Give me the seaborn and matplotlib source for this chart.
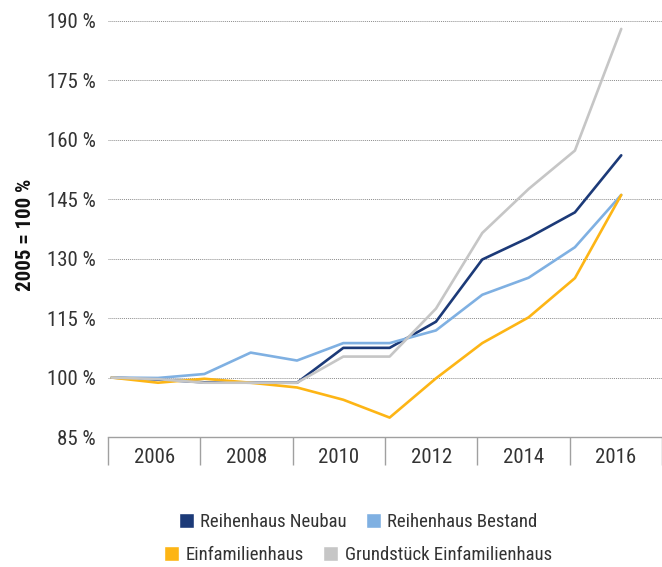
import numpy as np
import pandas as pd
import matplotlib
matplotlib.use("Agg")
import matplotlib.pyplot as plt
import seaborn as sns
from matplotlib.patches import Patch

# index values, 2005 = 100 %
years = list(range(2005, 2017))
reihenhaus_neubau = [100, 99.5, 98.8, 98.7, 98.7, 107.5, 107.5, 114.1, 129.8, 135.3, 141.7, 156.1]
reihenhaus_bestand = [100, 99.9, 100.9, 106.3, 104.3, 108.7, 108.7, 111.9, 120.9, 125.2, 132.9, 146.1]
einfamilienhaus = [100, 98.7, 99.7, 98.7, 97.5, 94.4, 89.9, 99.8, 108.7, 115.2, 125.1, 146.1]
grundstueck = [100, 99.6, 98.7, 98.7, 98.7, 105.3, 105.3, 117.4, 136.5, 147.6, 157.3, 188.0]

series_names = ["Reihenhaus Neubau", "Reihenhaus Bestand", "Einfamilienhaus",
                "Grundstück Einfamilienhaus"]
colors = ["#1c3a78", "#7fb0e2", "#fdb515", "#c6c6c6"]
year_labels = ["2006", "2008", "2010", "2012", "2014", "2016"]
y_ticks = [85, 100, 115, 130, 145, 160, 175, 190]

df = pd.DataFrame({
    "Jahr": years * 4,
    "Index": reihenhaus_neubau + reihenhaus_bestand + einfamilienhaus + grundstueck,
    "Serie": sum([[n] * len(years) for n in series_names], []),
})

sns.set_style("white")
plt.rcParams["font.family"] = ["Roboto Condensed", "Roboto", "DejaVu Sans"]
text_col = "#333333"

fig = plt.figure(figsize=(6.62, 5.67), dpi=100)
ax = fig.add_axes([108 / 662, 1 - 437 / 567, 554 / 662, 416 / 567])

sns.lineplot(data=df, x="Jahr", y="Index", hue="Serie", hue_order=series_names,
             palette=colors, linewidth=1.9, ax=ax, legend=False)

ax.set_xlim(2004.92, 2016.88)
ax.set_ylim(85, 190)
ax.set_yticks(y_ticks)
ax.set_yticklabels([f"{v} %" for v in y_ticks], fontsize=15, color=text_col)
ax.grid(axis="y", color="#8c8c8c", linestyle=(0, (1, 1)), linewidth=0.7)
ax.set_axisbelow(True)

seps = np.linspace(2004.92, 2016.88, 7)
mids = (seps[:-1] + seps[1:]) / 2
ax.set_xticks(mids)
ax.set_xticklabels(year_labels, fontsize=15, color=text_col)
ax.set_xticks(seps, minor=True)
ax.tick_params(axis="x", which="both", bottom=True)
ax.tick_params(axis="x", which="major", length=0, pad=8)
ax.tick_params(axis="x", which="minor", length=20, width=1, color="#a0a0a0")
ax.tick_params(axis="y", length=0, pad=9)

for s in ["top", "right", "left"]:
    ax.spines[s].set_visible(False)
ax.spines["bottom"].set_color("#a0a0a0")
ax.spines["bottom"].set_linewidth(1)

ax.set_xlabel("")
ax.set_ylabel("2005 = 100 %", fontsize=15, fontweight="bold", color="#111111")
ax.yaxis.set_label_coords(-0.132, 0.486)

h = [Patch(facecolor=c) for c in colors]
fig.legend(h[:2], series_names[:2], loc="center", bbox_to_anchor=(358 / 662, 1 - 522 / 567),
           ncol=2, frameon=False, fontsize=13.5, handlelength=0.8, handleheight=0.8,
           handletextpad=0.35, columnspacing=1.0, labelcolor=text_col)
fig.legend(h[2:], series_names[2:], loc="center", bbox_to_anchor=(358 / 662, 1 - 555 / 567),
           ncol=2, frameon=False, fontsize=13.5, handlelength=0.8, handleheight=0.8,
           handletextpad=0.35, columnspacing=1.0, labelcolor=text_col)

fig.savefig("out.png", dpi=100)
